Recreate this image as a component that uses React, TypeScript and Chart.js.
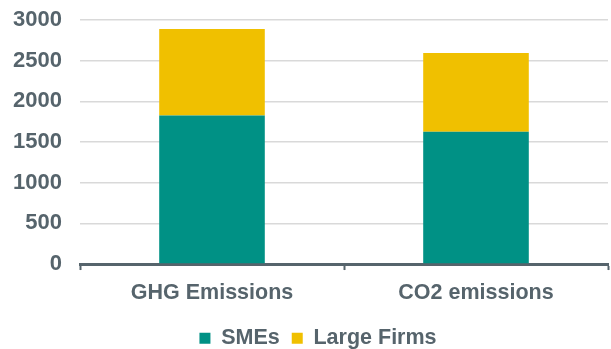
import React, { useEffect, useRef } from "react";
import { Chart, registerables } from "chart.js";

Chart.register(...registerables);

const categories = ["GHG Emissions", "CO2 emissions"];
const smeValues = [1825, 1625];
const largeFirmValues = [1065, 970];
const yTicks = [0, 500, 1000, 1500, 2000, 2500, 3000];

const TEAL = "#009185";
const YELLOW = "#F0C000";
const SLATE = "#56646c";
const FONT = "'Liberation Sans', Arial, sans-serif";

// Nudges the legend row to the right of the canvas centre.
const legendOffset = {
  id: "legendOffset",
  afterLayout(chart: any) {
    const lg = chart.legend;
    if (!lg) return;
    lg.left += 14;
    lg.right += 14;
  },
};

export default function App() {
  const canvasRef = useRef<HTMLCanvasElement | null>(null);

  useEffect(() => {
    if (!canvasRef.current) return;
    const chart = new Chart(canvasRef.current, {
      type: "bar",
      data: {
        labels: categories,
        datasets: [
          {
            label: "SMEs",
            data: smeValues,
            backgroundColor: TEAL,
            categoryPercentage: 1,
            barPercentage: 0.4,
          },
          {
            label: "Large Firms",
            data: largeFirmValues,
            backgroundColor: YELLOW,
            categoryPercentage: 1,
            barPercentage: 0.4,
          },
        ],
      },
      plugins: [legendOffset],
      options: {
        animation: false,
        responsive: true,
        maintainAspectRatio: false,
        layout: { padding: { top: 20, right: 3, left: 0, bottom: -10 } },
        plugins: {
          tooltip: { enabled: false },
          legend: {
            position: "bottom",
            labels: {
              boxWidth: 11,
              boxHeight: 11,
              padding: 12,
              color: SLATE,
              font: { family: FONT, size: 21.5, weight: "bold" },
            },
          },
        },
        scales: {
          x: {
            stacked: true,
            grid: {
              offset: true,
              drawOnChartArea: false,
              drawTicks: true,
              tickLength: 6,
              tickWidth: 2,
              tickColor: SLATE,
            },
            border: { color: SLATE, width: 3 },
            ticks: {
              color: SLATE,
              padding: 8,
              font: { family: FONT, size: 21.5, weight: "bold", lineHeight: 1.37 },
            },
          },
          y: {
            stacked: true,
            min: 0,
            max: 3000,
            afterBuildTicks: (scale: any) => {
              scale.ticks = yTicks.map((v) => ({ value: v }));
            },
            afterFit: (scale: any) => {
              scale.width = 80;
            },
            grid: {
              color: "#d9d9d9",
              lineWidth: 1.5,
              drawTicks: true,
              tickLength: 18,
              tickColor: "rgba(0,0,0,0)",
            },
            border: { display: false },
            ticks: {
              color: SLATE,
              padding: 0,
              callback: (v: any) => String(v),
              font: { family: FONT, size: 22, weight: "bold" },
            },
          },
        },
      },
    });
    return () => chart.destroy();
  }, []);

  return (
    <div style={{ position: "fixed", left: 0, top: 0, width: 611, height: 349, background: "#fff" }}>
      <canvas ref={canvasRef} />
    </div>
  );
}
